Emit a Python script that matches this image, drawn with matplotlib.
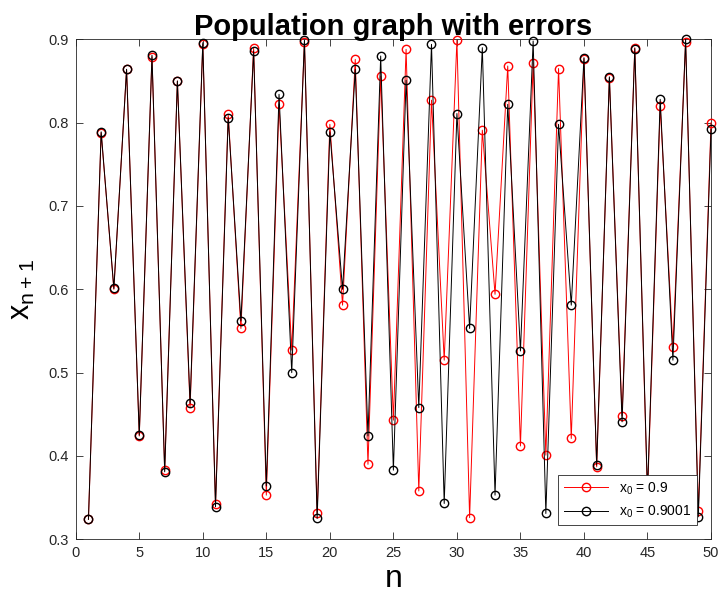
import matplotlib
matplotlib.use("Agg")
import matplotlib.pyplot as plt

plt.rcParams['font.family'] = ['Liberation Sans', 'DejaVu Sans']
plt.rcParams['mathtext.default'] = 'regular'

n = list(range(1, 51))
x_a = [0.324, 0.788, 0.600, 0.864, 0.424, 0.879, 0.383, 0.850, 0.458, 0.894,
       0.342, 0.810, 0.553, 0.890, 0.353, 0.822, 0.527, 0.897, 0.331, 0.798,
       0.581, 0.876, 0.390, 0.856, 0.443, 0.888, 0.358, 0.827, 0.515, 0.899,
       0.326, 0.791, 0.594, 0.868, 0.412, 0.872, 0.401, 0.865, 0.421, 0.877,
       0.387, 0.854, 0.448, 0.890, 0.351, 0.820, 0.531, 0.897, 0.334, 0.800]
x_b = [0.324, 0.789, 0.601, 0.864, 0.425, 0.881, 0.381, 0.850, 0.463, 0.896,
       0.339, 0.806, 0.562, 0.886, 0.364, 0.834, 0.500, 0.899, 0.325, 0.789,
       0.600, 0.864, 0.424, 0.880, 0.383, 0.851, 0.458, 0.894, 0.343, 0.811,
       0.553, 0.890, 0.353, 0.822, 0.526, 0.898, 0.331, 0.798, 0.581, 0.878,
       0.389, 0.855, 0.441, 0.889, 0.357, 0.828, 0.515, 0.900, 0.327, 0.792]
labels = ['x$_0$ = 0.9', 'x$_0$ = 0.9001']
xticks = list(range(0, 51, 5))
yticks = [0.3, 0.4, 0.5, 0.6, 0.7, 0.8, 0.9]

fig = plt.figure(figsize=(7.22, 5.96), dpi=100)
ax = fig.add_axes([0.1049, 0.0951, 0.8799, 0.8389])

ax.plot(n, x_a, color='red', lw=0.7, marker='o', ms=6, mfc='none', mew=1.0,
        label=labels[0], clip_on=False, zorder=3)
ax.plot(n, x_b, color='black', lw=0.7, marker='o', ms=6, mfc='none', mew=1.0,
        label=labels[1], clip_on=False, zorder=4)

ax.set_xlim(0, 50)
ax.set_ylim(0.3, 0.9)
ax.set_xticks(xticks)
ax.set_yticks(yticks)
ax.set_yticklabels([f'{v:g}' for v in yticks])
ax.tick_params(direction='in', top=True, right=True, labelsize=10.5, colors='#262626',
               length=5, width=0.6, pad=5)
for s in ax.spines.values():
    s.set_color('#262626')
    s.set_linewidth(0.6)

ax.set_title('Population graph with errors', fontsize=21, fontweight='bold', pad=3)
ax.set_xlabel('n', fontsize=23, labelpad=3)
ax.set_ylabel('x$_{n+1}$', fontsize=22, labelpad=8)

leg = ax.legend(loc='lower right', fontsize=10, frameon=True, fancybox=False,
                edgecolor='#262626', framealpha=1, borderaxespad=1.0, handlelength=3.2)
leg.get_frame().set_linewidth(0.6)
leg.set_zorder(10)

fig.savefig('out.png', dpi=100)
